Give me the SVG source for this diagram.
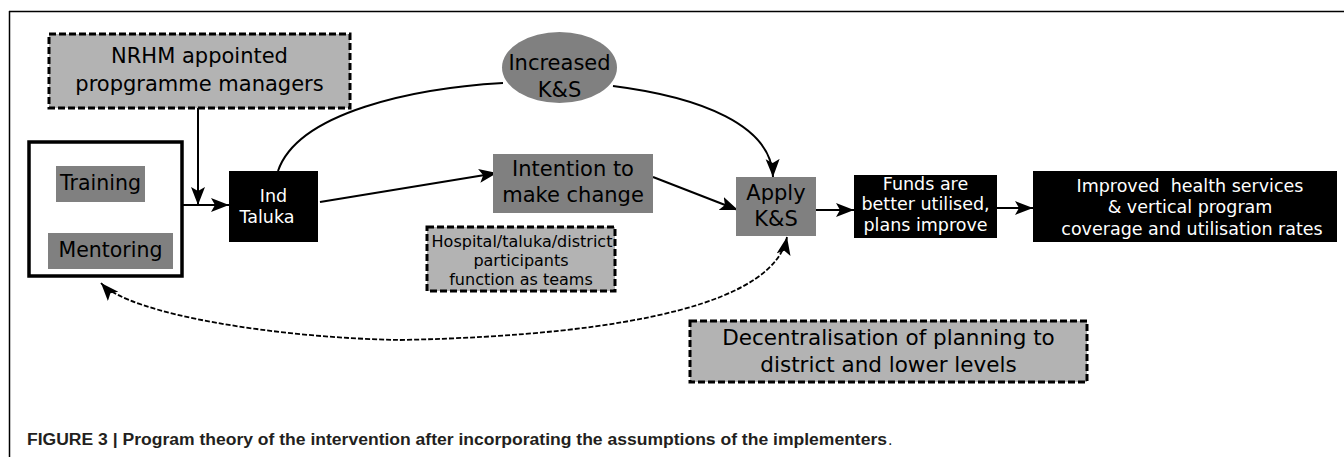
<svg xmlns="http://www.w3.org/2000/svg" width="1344" height="457" viewBox="0 0 1344 457">
  <style>
    .lbl { font-family: "DejaVu Sans", "Liberation Sans", sans-serif; text-anchor: middle; fill: #000; }
    .inv { fill: #fff; }
    .assume { fill: #b3b3b3; stroke: #000; stroke-width: 3; stroke-dasharray: 7 3; }
    .mid { fill: #808080; }
    .dark { fill: #000; }
    .edge { fill: none; stroke: #000; stroke-width: 2; }
    .loop { fill: none; stroke: #000; stroke-width: 1.8; stroke-dasharray: 5 2; }
    .cap { font-family: "Liberation Sans", Arial, sans-serif; font-size: 16px; fill: #231f20; }
  </style>
  <defs>
    <marker id="arrow" markerUnits="userSpaceOnUse" markerWidth="20" markerHeight="16" viewBox="0 0 20 16" refX="18" refY="8" orient="auto-start-reverse">
      <path d="M0,1 L18,8 L0,15 L4,8 Z" fill="#000"/>
    </marker>
  </defs>

  <rect width="1344" height="457" fill="#fff"/>
  <!-- figure frame: top rule and left rule -->
  <path d="M9,11.5 H1344 M9.5,11 V457" fill="none" stroke="#000" stroke-width="1.5"/>

  <g id="connectors">
    <path class="edge" d="M198,108 V205" marker-end="url(#arrow)"/>
    <path class="edge" d="M182,205 H229" marker-end="url(#arrow)"/>
    <path class="edge" d="M278,171 C298,112 415,88 503,83"/>
    <path class="edge" d="M613,86 C700,97 772,125 773,177" marker-end="url(#arrow)"/>
    <path class="edge" d="M320,202 L497,173" marker-end="url(#arrow)"/>
    <path class="edge" d="M653,177 L738,210" marker-end="url(#arrow)"/>
    <path class="edge" d="M816,210 H854" marker-end="url(#arrow)"/>
    <path class="edge" d="M997,208 H1033" marker-end="url(#arrow)"/>
    <path class="loop" d="M787,237 C775,300 640,335 400,340 C280,338 130,315 101,283" marker-start="url(#arrow)" marker-end="url(#arrow)"/>
  </g>

  <g id="nrhm-managers">
    <rect class="assume" x="49" y="34" width="301" height="74"/>
    <text class="lbl" font-size="21" x="199.5" y="63">NRHM appointed</text>
    <text class="lbl" font-size="21" x="199.5" y="91">propgramme managers</text>
  </g>

  <g id="training-mentoring">
    <rect x="29" y="142" width="153" height="134" fill="#fff" stroke="#000" stroke-width="3.5"/>
    <rect class="mid" x="56" y="166" width="89" height="36"/>
    <text class="lbl" font-size="20.5" x="100.5" y="190">Training</text>
    <rect class="mid" x="48" y="233" width="125" height="36"/>
    <text class="lbl" font-size="20.5" x="110.5" y="257">Mentoring</text>
  </g>

  <g id="ind-taluka">
    <rect class="dark" x="229" y="171" width="89" height="71"/>
    <text class="lbl inv" font-size="17.5" x="273.5" y="202">Ind</text>
    <text class="lbl inv" font-size="17.5" x="267" y="223">Taluka</text>
  </g>

  <g id="increased-ks">
    <ellipse class="mid" cx="559.5" cy="67.5" rx="57.5" ry="35.5"/>
    <text class="lbl" font-size="21" x="559.5" y="70">Increased</text>
    <text class="lbl" font-size="21" x="559.5" y="97">K&amp;S</text>
  </g>

  <g id="intention">
    <rect class="mid" x="493" y="154" width="160" height="59"/>
    <text class="lbl" font-size="21" x="573" y="176">Intention to</text>
    <text class="lbl" font-size="21" x="573" y="202">make change</text>
  </g>

  <g id="teams">
    <rect class="assume" x="427" y="227" width="188" height="64"/>
    <text class="lbl" font-size="16" x="522" y="247">Hospital/taluka/district</text>
    <text class="lbl" font-size="16" x="521" y="266">participants</text>
    <text class="lbl" font-size="16" x="521" y="285">function as teams</text>
  </g>

  <g id="apply-ks">
    <rect class="mid" x="736" y="177" width="80" height="59"/>
    <text class="lbl" font-size="21" x="776" y="200">Apply</text>
    <text class="lbl" font-size="21" x="776" y="226">K&amp;S</text>
  </g>

  <g id="funds">
    <rect class="dark" x="854" y="175" width="143" height="63"/>
    <text class="lbl inv" font-size="17.5" x="925.5" y="190">Funds are</text>
    <text class="lbl inv" font-size="17.5" x="925.5" y="210">better utilised,</text>
    <text class="lbl inv" font-size="17.5" x="925.5" y="231">plans improve</text>
  </g>

  <g id="improved-services">
    <rect class="dark" x="1033" y="171" width="304" height="71"/>
    <text class="lbl inv" font-size="17.5" x="1190" y="192" xml:space="preserve">Improved  health services</text>
    <text class="lbl inv" font-size="17.5" x="1190" y="213">&amp; vertical program</text>
    <text class="lbl inv" font-size="17.5" x="1192" y="235">coverage and utilisation rates</text>
  </g>

  <g id="decentralisation">
    <rect class="assume" x="690" y="321" width="397" height="61"/>
    <text class="lbl" font-size="21.5" x="888.5" y="345">Decentralisation of planning to</text>
    <text class="lbl" font-size="21.5" x="888.5" y="372">district and lower levels</text>
  </g>

  <g id="caption">
    <text class="cap" x="27" y="445" font-weight="bold" textLength="860" lengthAdjust="spacingAndGlyphs">FIGURE 3 | Program theory of the intervention after incorporating the assumptions of the implementers</text>
    <text class="cap" x="888" y="445">.</text>
  </g>
</svg>
